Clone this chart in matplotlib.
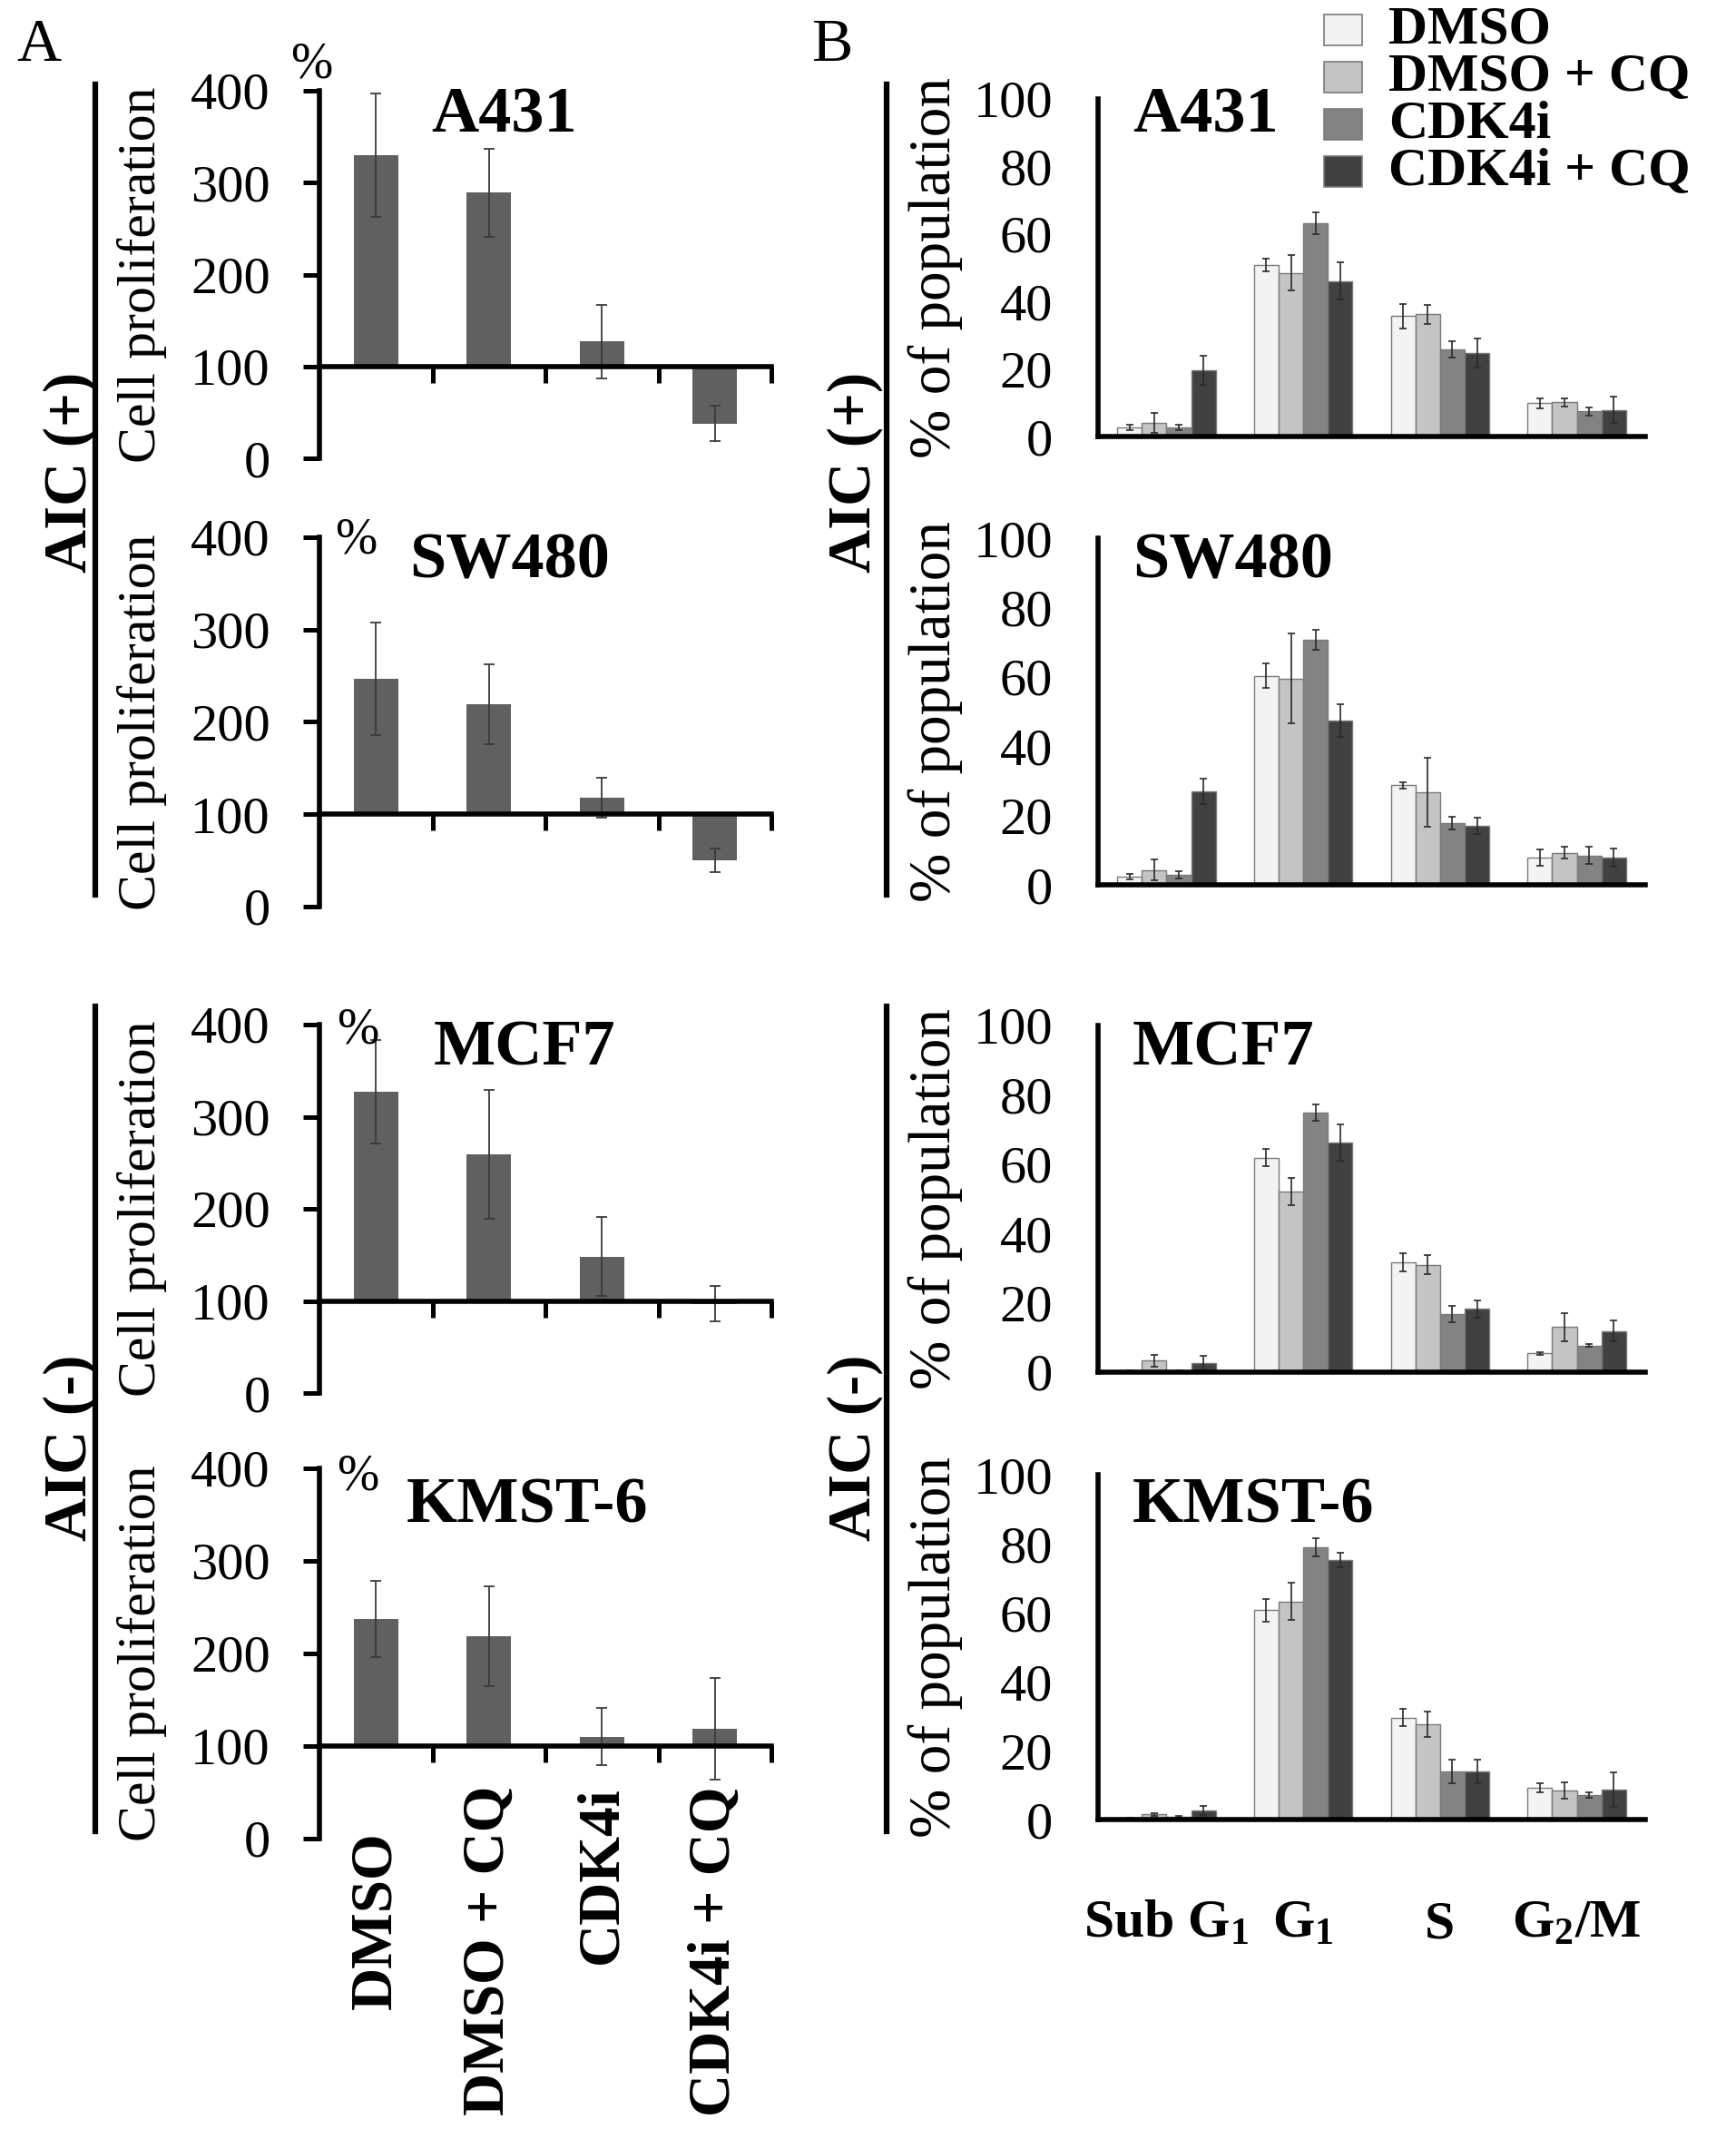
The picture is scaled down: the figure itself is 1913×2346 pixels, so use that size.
import matplotlib
matplotlib.use('Agg')
import matplotlib.pyplot as plt
import numpy as np
from matplotlib.lines import Line2D
from matplotlib.patches import Rectangle

plt.rcParams['font.family'] = ['Liberation Serif', 'DejaVu Serif']
plt.rcParams['mathtext.fontset'] = 'custom'
plt.rcParams['mathtext.rm'] = 'Liberation Serif:bold'
plt.rcParams['mathtext.bf'] = 'Liberation Serif:bold'
plt.rcParams['mathtext.it'] = 'Liberation Serif:bold'

# ---------------- data ----------------
treatments = ['DMSO', 'DMSO + CQ', 'CDK4i', 'CDK4i + CQ']
cell_lines = ['A431', 'SW480', 'MCF7', 'KMST-6']
phases = [r'Sub G$_1$', r'G$_1$', 'S', r'G$_2$/M']
prolif_ticks = [0, 100, 200, 300, 400]
pop_ticks = [0, 20, 40, 60, 80, 100]

prolif_A431 = [330, 289, 127, 38]
prolif_A431_err = [67, 48, 40, 19]
prolif_SW480 = [247, 219, 118, 50]
prolif_SW480_err = [61, 43, 22, 13]
prolif_MCF7 = [327, 259, 148, 97]
prolif_MCF7_err = [56, 70, 43, 19]
prolif_KMST6 = [237, 219, 110, 119]
prolif_KMST6_err = [41, 54, 31, 55]

# cell cycle: rows = treatments, columns = phases (Sub G1, G1, S, G2/M)
cycle_A431 = [[2.7, 50.8, 35.7, 9.9],
              [4.0, 48.5, 36.2, 10.1],
              [2.7, 63.2, 25.8, 7.4],
              [19.6, 46.1, 24.7, 7.9]]
cycle_A431_err = [[0.8, 1.8, 3.6, 1.5],
                  [3.0, 5.3, 2.8, 1.3],
                  [0.8, 3.3, 2.4, 1.3],
                  [4.3, 5.6, 4.2, 4.0]]
cycle_SW480 = [[2.4, 60.3, 28.7, 7.9],
               [4.3, 59.5, 26.7, 9.2],
               [2.9, 70.6, 17.8, 8.5],
               [27.0, 47.5, 17.0, 7.9]]
cycle_SW480_err = [[0.8, 3.5, 1.0, 2.4],
                   [3.0, 13.0, 10.0, 1.7],
                   [1.0, 2.9, 1.8, 2.5],
                   [3.6, 4.7, 2.3, 2.7]]
cycle_MCF7 = [[0.4, 61.8, 31.7, 5.4],
              [3.3, 52.1, 31.0, 13.0],
              [0.4, 74.8, 16.7, 7.6],
              [2.6, 66.2, 18.2, 11.9]]
cycle_MCF7_err = [[0.2, 2.5, 2.7, 0.3],
                  [1.6, 4.0, 2.7, 4.1],
                  [0.2, 2.4, 2.4, 0.4],
                  [2.2, 5.2, 2.6, 3.0]]
cycle_KMST6 = [[0.4, 60.7, 29.6, 9.3],
               [1.5, 63.2, 27.7, 8.5],
               [0.8, 78.9, 14.0, 7.2],
               [2.7, 75.3, 14.0, 8.7]]
cycle_KMST6_err = [[0.2, 3.2, 2.5, 1.3],
                   [0.4, 5.4, 3.7, 2.4],
                   [0.3, 2.7, 3.5, 0.8],
                   [1.3, 2.1, 3.5, 5.0]]

prolif = [prolif_A431, prolif_SW480, prolif_MCF7, prolif_KMST6]
prolif_err = [prolif_A431_err, prolif_SW480_err, prolif_MCF7_err, prolif_KMST6_err]
cycle = [cycle_A431, cycle_SW480, cycle_MCF7, cycle_KMST6]
cycle_err = [cycle_A431_err, cycle_SW480_err, cycle_MCF7_err, cycle_KMST6_err]

# ---------------- styles / layout (pixels) ----------------
W, H, DPI = 1913, 2346, 100
bar_colors = ['#f3f3f3', '#c4c4c4', '#838383', '#414141']
A_bar_color = '#606060'

A_left, A_right = 352, 850
A_tops = [100, 592, 1129, 1618]
A_bots = [505, 999, 1535, 2026]
B_left, B_right = 1210, 1813
B_tops = [109, 593, 1130, 1625]
B_bots = [481, 975, 1512, 2005]

A_title_x = [475, 451, 478, 448]
title_base = [145, 637, 1174, 1677]
B_title_x = 1248
pct_pos = [(343, 72), (392, 596), (394, 1135), (394, 1627)]
A_label_top = [2018, 1968, 1968, 1968]

fig = plt.figure(figsize=(W / DPI, H / DPI), dpi=DPI)


def rect(left, right, top, bot):
    return [left / W, 1 - bot / H, (right - left) / W, (bot - top) / H]


def fx(x):
    return x / W


def fy(y):
    return 1 - y / H


TICK_FS = 42
TITLE_FS = 52

# ---------------- Panel A ----------------
for i in range(4):
    ax = fig.add_axes(rect(A_left, A_right, A_tops[i], A_bots[i]))
    x = np.arange(4)
    vals = np.array(prolif[i], dtype=float)
    ax.bar(x, vals - 100, bottom=100, width=0.39, color=A_bar_color, zorder=1)
    ax.errorbar(x, vals, yerr=prolif_err[i], fmt='none', ecolor='#3a3a3a',
                elinewidth=1.3, capsize=4, capthick=1.3, zorder=2)
    ax.set_xlim(-0.5, 3.5)
    ax.set_ylim(0, 400)
    for s in ['top', 'right']:
        ax.spines[s].set_visible(False)
    ax.spines['left'].set_linewidth(4)
    ax.spines['bottom'].set_linewidth(4)
    ax.spines['bottom'].set_position(('data', 100))
    ax.set_yticks(prolif_ticks)
    ax.set_xticks([0.5, 1.5, 2.5, 3.5])
    ax.set_xticklabels([])
    ax.tick_params(axis='y', direction='out', length=13, width=3.6,
                   labelsize=TICK_FS, pad=26)
    ax.tick_params(axis='x', direction='out', length=13, width=3.6)
    ax.patch.set_alpha(0)
    fig.text(fx(A_title_x[i]), fy(title_base[i]), cell_lines[i],
             fontsize=TITLE_FS, fontweight='bold', ha='left', va='baseline')
    fig.text(fx(pct_pos[i][0]), fy(pct_pos[i][1]), '%', fontsize=40,
             ha='center', va='center')
    fig.text(fx(157), fy((A_tops[i] + A_bots[i]) / 2), 'Cell proliferation',
             fontsize=43, rotation=90, ha='center', va='center')
    if i == 3:
        tr = ax.get_xaxis_transform()
        for k, t in enumerate(treatments):
            ytop = (A_bots[i] - A_label_top[k]) / (A_bots[i] - A_tops[i])
            ax.text(k, ytop, t, transform=tr, rotation=90, ha='center',
                    va='top', fontsize=47, fontweight='bold', clip_on=False)

# ---------------- Panel B ----------------
nT = len(treatments)
bw = 0.18
for i in range(4):
    ax = fig.add_axes(rect(B_left, B_right, B_tops[i], B_bots[i]))
    xc = np.arange(4) + 0.5
    for t in range(nT):
        xs = xc + (t - 1.5) * bw
        ax.bar(xs, cycle[i][t], width=bw, color=bar_colors[t],
               edgecolor='#7a7a7a', linewidth=1.0, zorder=1)
        ax.errorbar(xs, cycle[i][t], yerr=cycle_err[i][t], fmt='none',
                    ecolor='#2a2a2a', elinewidth=1.2, capsize=3,
                    capthick=1.2, zorder=2)
    ax.set_xlim(0, 4)
    ax.set_ylim(0, 100)
    for s in ['top', 'right']:
        ax.spines[s].set_visible(False)
    ax.spines['left'].set_linewidth(4)
    ax.spines['bottom'].set_linewidth(4)
    ax.set_yticks(pop_ticks)
    ax.set_xticks([])
    ax.tick_params(axis='y', length=0, labelsize=TICK_FS, pad=36)
    ax.patch.set_alpha(0)
    fig.text(fx(B_title_x), fy(title_base[i]), cell_lines[i],
             fontsize=TITLE_FS, fontweight='bold', ha='left', va='baseline')
    fig.text(fx(1031), fy((B_tops[i] + B_bots[i]) / 2), '% of population',
             fontsize=47, rotation=90, ha='center', va='center')
    if i == 3:
        tr = ax.get_xaxis_transform()
        ybase = (B_bots[i] - 2135) / (B_bots[i] - B_tops[i])
        for k, p in enumerate(phases):
            ax.text(xc[k], ybase, p, transform=tr, ha='center',
                    va='baseline', fontsize=43, fontweight='bold',
                    clip_on=False)

# ---------------- group brackets / labels ----------------
for xl, xt in [(105, 78), (977, 942)]:
    for (y1, y2), lab, yc in [((93, 986), 'AIC (+)', 520),
                              ((1109, 2018), 'AIC (-)', 1595)]:
        fig.add_artist(Line2D([fx(xl), fx(xl)], [fy(y1), fy(y2)],
                              transform=fig.transFigure, color='black',
                              lw=4.5))
        fig.text(fx(xt), fy(yc), lab, fontsize=48, fontweight='bold',
                 rotation=90, ha='center', va='center')

fig.text(fx(18), fy(67), 'A', fontsize=49, ha='left', va='baseline')
fig.text(fx(894), fy(67), 'B', fontsize=49, ha='left', va='baseline')

# ---------------- legend ----------------
leg_rows = [33, 85, 137, 189]
for t in range(nT):
    yc = leg_rows[t]
    fig.add_artist(Rectangle((fx(1459), fy(yc + 17)), 42 / W, 34 / H,
                             transform=fig.transFigure,
                             facecolor=bar_colors[t], edgecolor='#7a7a7a',
                             lw=1.2))
    fig.text(fx(1530), fy(yc), treatments[t], fontsize=43,
             fontweight='bold', ha='left', va='center')

fig.savefig('out.png', dpi=DPI)
